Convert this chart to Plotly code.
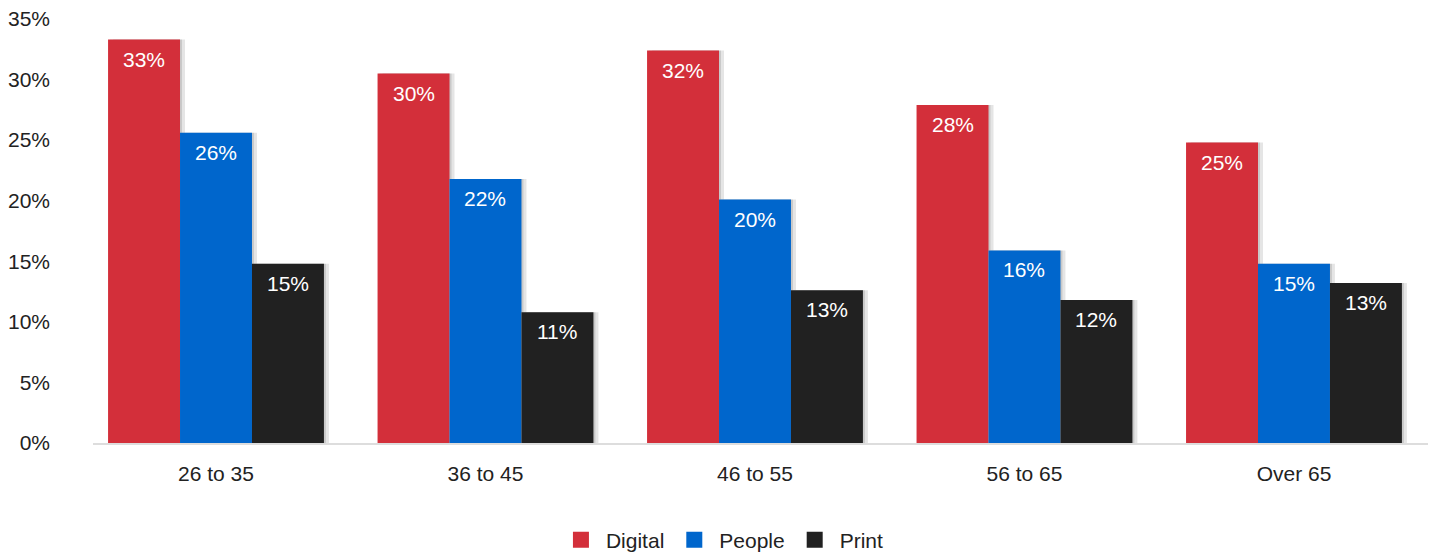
import plotly.graph_objects as go

# Share of respondents by age group and channel
age_groups = ["26 to 35", "36 to 45", "46 to 55", "56 to 65", "Over 65"]
digital = [33.3, 30.5, 32.4, 27.9, 24.8]
people = [25.6, 21.8, 20.1, 15.9, 14.8]
print_ = [14.8, 10.8, 12.6, 11.8, 13.2]
y_ticks = [0, 5, 10, 15, 20, 25, 30, 35]

series = [
    ("Digital", digital, "#D32F3A"),
    ("People", people, "#0066CC"),
    ("Print", print_, "#212121"),
]

FONT = "Liberation Sans"
bar_w = 0.267
x = list(range(len(age_groups)))
px_unit = 1 / 269.5  # one pixel in category units

fig = go.Figure()

# soft drop shadows to the right of each bar
for i, (name, vals, col) in enumerate(series):
    off = (i - 1.5) * bar_w
    for shift, alpha in [(5, 0.10), (2, 0.12)]:
        fig.add_trace(go.Bar(
            x=x, y=vals, width=bar_w, offset=off + shift * px_unit,
            marker=dict(color=f"rgba(0,0,0,{alpha})", line=dict(width=0)),
            showlegend=False, hoverinfo="skip",
        ))

for i, (name, vals, col) in enumerate(series):
    off = (i - 1.5) * bar_w
    fig.add_trace(go.Bar(
        x=x, y=vals, width=bar_w, offset=off, name=name,
        marker=dict(color=col, line=dict(width=0)),
        showlegend=False,
    ))
    for xi, v in zip(x, vals):
        fig.add_annotation(
            x=xi + off + bar_w / 2, y=v, text=f"{round(v)}%",
            showarrow=False, yanchor="top", yshift=-6,
            font=dict(family=FONT, size=21, color="white"),
        )
    # legend swatch
    fig.add_trace(go.Scatter(
        x=[None], y=[None], mode="markers", name=name,
        marker=dict(symbol="square", size=18, color=col),
    ))

fig.update_layout(
    width=1432, height=554,
    margin=dict(l=93, r=4, t=19, b=111, autoexpand=False),
    barmode="overlay",
    plot_bgcolor="white", paper_bgcolor="white",
    font=dict(family=FONT, size=21, color="#222222"),
    legend=dict(orientation="h", xref="container", x=0.5045, xanchor="center",
                yref="container", y=0.025, yanchor="middle", itemwidth=40,
                font=dict(size=21, color="#222222")),
    xaxis=dict(
        range=[-0.4564, 4.4973], tickvals=x, ticktext=age_groups,
        showgrid=False, zeroline=False, showline=True, linecolor="#DDDDDD",
        linewidth=2, ticks="", ticklabelstandoff=11,
    ),
    yaxis=dict(
        range=[0, 35], tickvals=y_ticks, ticktext=[f"{t}%" for t in y_ticks],
        showgrid=False, zeroline=False, showline=False, ticks="",
        ticklabelstandoff=42,
    ),
)

fig.write_html("out.html")
